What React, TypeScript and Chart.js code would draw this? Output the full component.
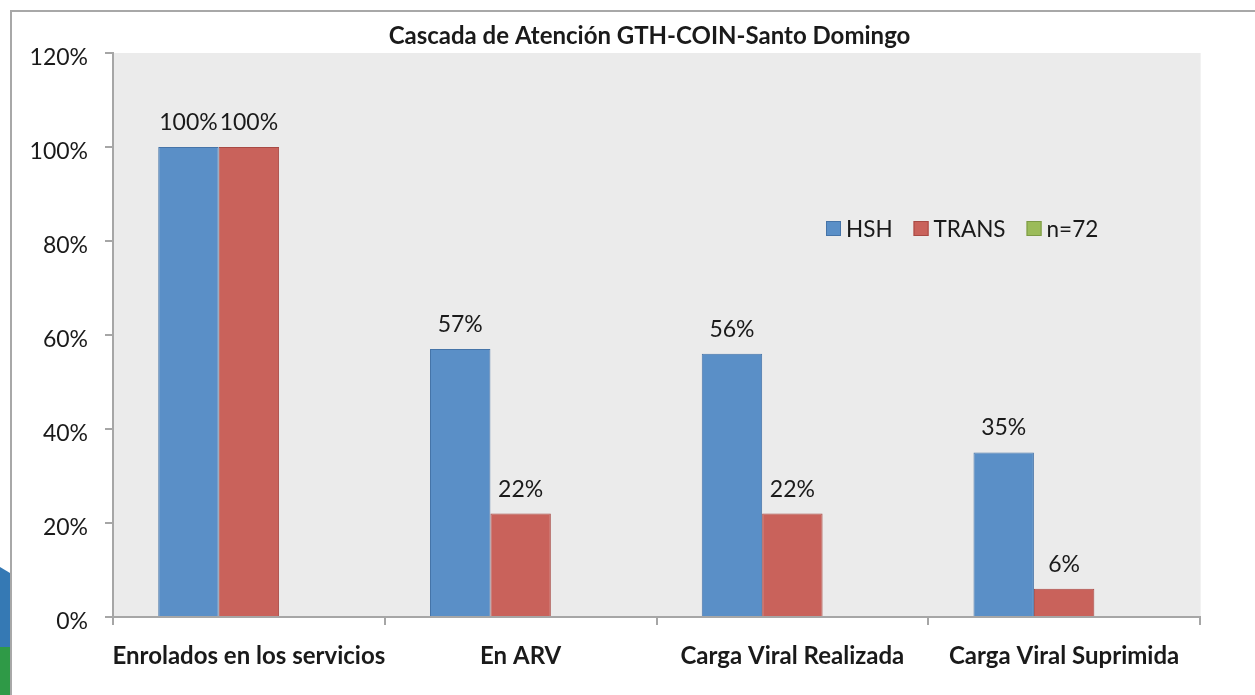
import React, { useEffect, useRef } from "react";
import { Chart, registerables } from "chart.js";

Chart.register(...registerables);

const categories = [
  "Enrolados en los servicios",
  "En ARV",
  "Carga Viral Realizada",
  "Carga Viral Suprimida",
];
const hshValues = [1.0, 0.57, 0.56, 0.35];
const transValues = [1.0, 0.22, 0.22, 0.06];
const nValues: (number | null)[] = [null, null, null, null];
const seriesLabels = ["HSH", "TRANS", "n=72"];
const chartTitle = "Cascada de Atención GTH-COIN-Santo Domingo";
const yMin = 0;
const yMax = 1.2;
const yStep = 0.2;

const FONT = "Lato, 'Open Sans', sans-serif";
const TEXT = "#1a1a1a";

const fmtPct = (v: number) => `${Math.round(v * 100)}%`;

const plotBgPlugin = {
  id: "plotBg",
  beforeDraw(chart: any) {
    const { ctx, chartArea: a } = chart;
    ctx.save();
    ctx.fillStyle = "#ebebeb";
    ctx.fillRect(a.left, a.top, a.right - a.left, a.bottom - a.top);
    ctx.strokeStyle = "#f2f2f2";
    ctx.lineWidth = 1;
    ctx.beginPath();
    ctx.moveTo(a.right + 0.5, a.top);
    ctx.lineTo(a.right + 0.5, a.bottom);
    ctx.stroke();
    ctx.restore();
  },
};

const dataLabelPlugin = {
  id: "dataLabels",
  afterDatasetsDraw(chart: any) {
    const { ctx } = chart;
    ctx.save();
    ctx.font = `23px ${FONT}`;
    ctx.fillStyle = TEXT;
    ctx.textAlign = "center";
    ctx.textBaseline = "bottom";
    chart.data.datasets.forEach((ds: any, di: number) => {
      const meta = chart.getDatasetMeta(di);
      meta.data.forEach((el: any, i: number) => {
        const v = ds.data[i];
        if (v === null || v === undefined) return;
        ctx.fillText(fmtPct(v), el.x, el.y - 13);
      });
    });
    ctx.restore();
  },
};

const legendPlugin = {
  id: "customLegend",
  afterDraw(chart: any) {
    const { ctx, chartArea: a } = chart;
    ctx.save();
    ctx.font = `22.5px ${FONT}`;
    ctx.textBaseline = "middle";
    ctx.textAlign = "left";
    let x = a.left + 713;
    const yc = a.top + 176;
    chart.data.datasets.forEach((ds: any) => {
      ctx.fillStyle = ds.backgroundColor;
      ctx.strokeStyle = ds.borderColor;
      ctx.lineWidth = 1;
      ctx.fillRect(x, yc - 8, 15, 15);
      ctx.strokeRect(x + 0.5, yc - 7.5, 14, 14);
      ctx.fillStyle = TEXT;
      ctx.fillText(ds.label, x + 20, yc + 1);
      x += 20 + ctx.measureText(ds.label).width + 21;
    });
    ctx.restore();
  },
};

const titlePlugin = {
  id: "customTitle",
  afterDraw(chart: any) {
    const { ctx, chartArea: a } = chart;
    ctx.save();
    ctx.font = `bold 24px ${FONT}`;
    ctx.fillStyle = TEXT;
    ctx.textAlign = "center";
    ctx.textBaseline = "middle";
    ctx.fillText(chartTitle, (a.left + a.right) / 2 - 7, 36);
    ctx.restore();
  },
};

export default function App() {
  const ref = useRef<HTMLCanvasElement | null>(null);

  useEffect(() => {
    if (!ref.current) return;
    const chart = new Chart(ref.current, {
      type: "bar",
      data: {
        labels: categories,
        datasets: [
          {
            label: seriesLabels[0],
            data: hshValues,
            backgroundColor: "#5a8fc7",
            borderColor: "#4674a8",
            borderWidth: 1,
            categoryPercentage: 0.667,
            barPercentage: 1.0,
          },
          {
            label: seriesLabels[1],
            data: transValues,
            backgroundColor: "#c9625b",
            borderColor: "#a84a44",
            borderWidth: 1,
            categoryPercentage: 0.667,
            barPercentage: 1.0,
          },
          {
            label: seriesLabels[2],
            data: nValues,
            backgroundColor: "#9bbb59",
            borderColor: "#7d9a45",
            borderWidth: 1,
            categoryPercentage: 0.667,
            barPercentage: 1.0,
          },
        ],
      },
      options: {
        responsive: false,
        animation: false,
        layout: { padding: { top: 53, right: 55, left: 0, bottom: 0 } },
        plugins: {
          legend: { display: false },
          title: { display: false },
          tooltip: { enabled: false },
        },
        scales: {
          x: {
            offset: true,
            grid: {
              offset: true,
              drawOnChartArea: false,
              drawTicks: true,
              tickLength: 8,
              color: "#a6a6a6",
              lineWidth: 2,
            },
            border: { display: true, color: "#a6a6a6", width: 2 },
            ticks: {
              color: TEXT,
              font: { family: FONT, size: 24, weight: "bold" },
              padding: 17,
              maxRotation: 0,
              autoSkip: false,
            },
            afterFit(scale: any) {
              scale.height = 78;
            },
          },
          y: {
            min: yMin,
            max: yMax,
            grid: {
              drawOnChartArea: false,
              drawTicks: true,
              tickLength: 8,
              color: "#a6a6a6",
              lineWidth: 2,
            },
            border: { display: true, color: "#a6a6a6", width: 2 },
            ticks: {
              stepSize: yStep,
              color: TEXT,
              font: { family: FONT, size: 23 },
              padding: 17,
              labelOffset: 5,
              callback: (v: any) => fmtPct(Number(v)),
            },
            afterFit(scale: any) {
              scale.width = 113;
            },
          },
        },
      },
      plugins: [plotBgPlugin, dataLabelPlugin, legendPlugin, titlePlugin],
    });
    return () => chart.destroy();
  }, []);

  return (
    <div
      style={{
        position: "absolute",
        left: 0,
        top: 0,
        width: 1255,
        height: 695,
        background: "#ffffff",
        overflow: "hidden",
      }}
    >
      <div
        style={{
          position: "absolute",
          left: 0,
          top: 567,
          width: 10,
          height: 81,
          background: "#3579b4",
          clipPath: "polygon(0 0, 100% 6px, 100% 100%, 0 100%)",
        }}
      />
      <div
        style={{
          position: "absolute",
          left: 0,
          top: 647,
          width: 10,
          height: 48,
          background: "#2f9a47",
        }}
      />
      <div
        style={{
          position: "absolute",
          left: 10,
          top: 10,
          right: 0,
          bottom: 0,
          borderTop: "2px solid #a8a8a8",
          borderLeft: "2px solid #a8a8a8",
        }}
      />
      <canvas
        ref={ref}
        width={1255}
        height={695}
        style={{ position: "absolute", left: 0, top: 0, width: 1255, height: 695 }}
      />
    </div>
  );
}
